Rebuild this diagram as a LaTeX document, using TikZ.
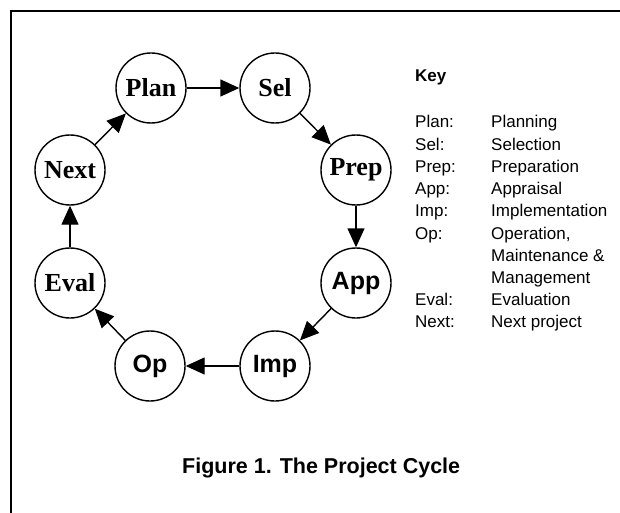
\documentclass[tikz,border=0pt]{standalone}
\usepackage{fontspec}
\setmainfont{Liberation Serif}
\setsansfont{Liberation Sans}
\usetikzlibrary{arrows.meta,positioning}

\tikzset{
  stage/.style={draw, circle, line width=1.4pt, minimum size=70pt, inner sep=0pt},
  serifstage/.style={stage, font=\bfseries\fontsize{26}{28}\selectfont},
  sansstage/.style={stage, font=\sffamily\bfseries\fontsize{25}{28}\selectfont},
  flow/.style={line width=1.4pt, -{Triangle[length=19pt,width=17pt]}},
  keytext/.style={anchor=base west, inner sep=0pt, font=\sffamily\fontsize{17}{20}\selectfont}
}

\begin{document}
\begin{tikzpicture}[x=1pt,y=-1pt]
  \useasboundingbox (0,0) rectangle (620,513);
  % Frame
  \draw[line width=2.6pt] (11,513) -- (11,11) -- (620,11);
  % Stages of the cycle
  \node[serifstage] (plan) at (151,88) {Plan};
  \node[serifstage] (sel) at (275,88) {Sel};
  \node[serifstage] (prep) at (356,170) {Prep};
  \node[sansstage] (app) at (356,283) {App};
  \node[sansstage] (imp) at (275,366) {Imp};
  \node[sansstage] (op) at (150,366) {Op};
  \node[serifstage] (eval) at (70,283) {Eval};
  \node[serifstage] (next) at (70,170) {Next};
  % Arrows round the cycle
  \draw[flow] (plan) -- (sel);
  \draw[flow] (sel) -- (prep);
  \draw[flow] (prep) -- (app);
  \draw[flow] (app) -- (imp);
  \draw[flow] (imp) -- (op);
  \draw[flow] (op) -- (eval);
  \draw[flow] (eval) -- (next);
  \draw[flow] (next) -- (plan);
  % Key
  \node[keytext, font=\sffamily\bfseries\fontsize{17}{20}\selectfont] (key) at (415,82) {Key};
  \node[keytext] (kplan) at (415,128) {Plan:};
  \node[keytext] (kplantxt) at (491,128) {Planning};
  \node[keytext] (ksel) at (415,150.2) {Sel:};
  \node[keytext] (kseltxt) at (491,150.2) {Selection};
  \node[keytext] (kprep) at (415,172.4) {Prep:};
  \node[keytext] (kpreptxt) at (491,172.4) {Preparation};
  \node[keytext] (kapp) at (415,194.6) {App:};
  \node[keytext] (kapptxt) at (491,194.6) {Appraisal};
  \node[keytext] (kimp) at (415,216.8) {Imp:};
  \node[keytext] (kimptxt) at (491,216.8) {Implementation};
  \node[keytext] (kop) at (415,239) {Op:};
  \node[keytext] (koptxt) at (491,239) {Operation,};
  \node[keytext] (kmaint) at (491,261.2) {Maintenance \&};
  \node[keytext] (kmgmt) at (491,283.4) {Management};
  \node[keytext] (keval) at (415,305.6) {Eval:};
  \node[keytext] (kevaltxt) at (491,305.6) {Evaluation};
  \node[keytext] (knext) at (415,327.8) {Next:};
  \node[keytext] (knexttxt) at (491,327.8) {Next project};
  % Caption
  \node[anchor=base west, inner sep=0pt, font=\sffamily\bfseries\fontsize{21.5}{24}\selectfont] (caption) at (182,473) {Figure 1. The Project Cycle};
\end{tikzpicture}
\end{document}
